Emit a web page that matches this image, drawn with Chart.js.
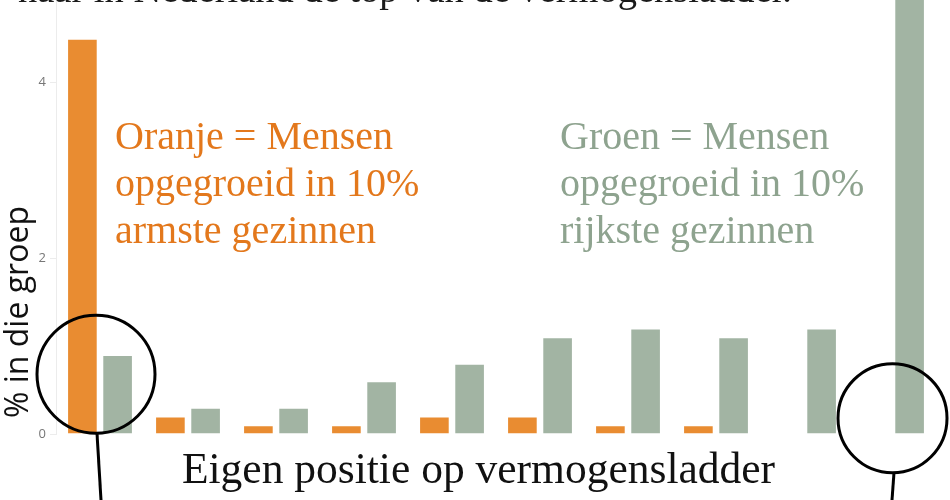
<!DOCTYPE html>
<html>
<head>
<meta charset="utf-8">
<script src="https://cdn.jsdelivr.net/npm/chart.js@4"></script>
<style>
  body { margin: 0; background: #fff; }
</style>
</head>
<body>
<canvas id="ladderChart" width="950" height="500"></canvas>
<script>
// deciles of own wealth position (1 = poorest, 10 = richest)
const categories = ['1', '2', '3', '4', '5', '6', '7', '8', '9', '10'];
// % of people raised in the 10% poorest families
const armsteGezinnen = [4.5, 0.2, 0.1, 0.1, 0.2, 0.2, 0.1, 0.1, 0, 0];
// % of people raised in the 10% richest families (last bar runs off the top)
const rijksteGezinnen = [0.9, 0.3, 0.3, 0.6, 0.8, 1.1, 1.2, 1.1, 1.2, 5.6];
const yTicks = [0, 2, 4];

const titleText = 'naar in Nederland de top van de vermogensladder.';
const orangeNote = ['Oranje = Mensen', 'opgegroeid in 10%', 'armste gezinnen'];
const greenNote = ['Groen = Mensen', 'opgegroeid in 10%', 'rijkste gezinnen'];
const xTitle = 'Eigen positie op vermogensladder';
const yTitle = '% in die groep';

const ORANGE = '#e98c31';
const GREEN = '#a2b4a3';
const SERIF = '"Liberation Serif", "DejaVu Serif", serif';

// circles marking the first and last decile
const markers = [
  { index: 0, dx: -4, value: 0.68, r: 59, tail: [1, 5] },
  { index: 9, dx: 0.5, value: 0.18, r: 54.5, tail: [1.5, -0.5] }
];

const decorations = {
  id: 'decorations',
  afterDraw(chart) {
    const ctx = chart.ctx;
    const x = chart.scales.x, y = chart.scales.y;
    ctx.save();

    // title, cut off at the top
    ctx.fillStyle = '#1a1a1a';
    ctx.font = '38.5px ' + SERIF;
    ctx.textAlign = 'left';
    ctx.textBaseline = 'alphabetic';
    ctx.fillText(titleText, 18, 2);

    // legend notes
    ctx.font = '40px ' + SERIF;
    ctx.fillStyle = '#e3781c';
    orangeNote.forEach((line, i) => ctx.fillText(line, 115, 149 + i * 47));
    ctx.fillStyle = '#8ea38f';
    greenNote.forEach((line, i) => ctx.fillText(line, 560, 149 + i * 47));

    // x axis title
    ctx.fillStyle = '#111';
    ctx.font = '43.5px ' + SERIF;
    ctx.textAlign = 'center';
    ctx.fillText(xTitle, 478.5, 483);

    // y axis title
    ctx.save();
    ctx.translate(27.5, 418);
    ctx.rotate(-Math.PI / 2);
    ctx.textAlign = 'left';
    ctx.font = '32px "Open Sans", "Noto Sans", sans-serif';
    ctx.fillText(yTitle, 0, 0);
    ctx.restore();

    // circles with their tails
    ctx.strokeStyle = '#000';
    ctx.lineWidth = 3;
    markers.forEach(m => {
      const cx = x.getPixelForValue(m.index) + m.dx;
      const cy = y.getPixelForValue(m.value);
      ctx.beginPath();
      ctx.arc(cx, cy, m.r, 0, Math.PI * 2);
      ctx.stroke();
      ctx.beginPath();
      ctx.moveTo(cx + m.tail[0], cy + m.r);
      ctx.lineTo(cx + m.tail[1], chart.height);
      ctx.stroke();
    });

    ctx.restore();
  }
};

new Chart(document.getElementById('ladderChart'), {
  type: 'bar',
  data: {
    labels: categories,
    datasets: [
      {
        label: 'Opgegroeid in 10% armste gezinnen',
        data: armsteGezinnen,
        backgroundColor: ORANGE,
        borderColor: 'rgba(255,255,255,0.3)',
        borderWidth: 1
      },
      {
        label: 'Opgegroeid in 10% rijkste gezinnen',
        data: rijksteGezinnen,
        backgroundColor: GREEN,
        borderColor: 'rgba(255,255,255,0.3)',
        borderWidth: 1
      }
    ]
  },
  options: {
    responsive: false,
    animation: false,
    categoryPercentage: 0.8,
    barPercentage: 0.87,
    layout: { padding: { top: 0, right: 14, bottom: 66, left: 0 } },
    plugins: {
      legend: { display: false },
      tooltip: { enabled: false }
    },
    scales: {
      x: { display: false },
      y: {
        min: 0,
        max: 4.94,
        ticks: {
          stepSize: 2,
          padding: 4,
          color: '#777777',
          font: { family: '"Open Sans", sans-serif', size: 13 }
        },
        grid: { drawOnChartArea: false, drawTicks: true, tickLength: 6, color: '#ececec' },
        border: { color: '#ececec' },
        afterBuildTicks: scale => {
          scale.ticks = yTicks.map(v => ({ value: v }));
        },
        afterFit: scale => {
          scale.width = 56;
          scale.paddingTop = 0;
          scale.paddingBottom = 0;
        }
      }
    }
  },
  plugins: [decorations]
});
</script>
</body>
</html>
